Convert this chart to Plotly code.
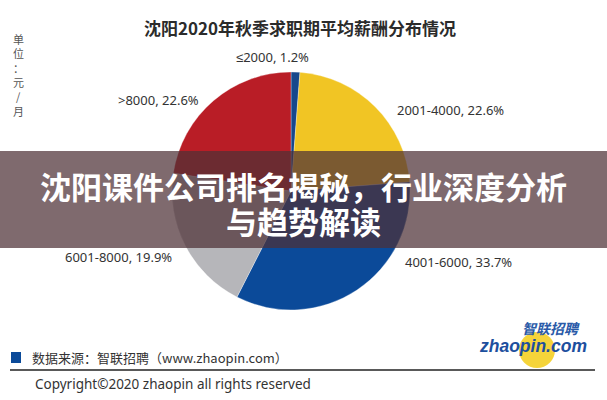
import plotly.graph_objects as go

labels = ["≤2000", "2001-4000", "4001-6000", "6001-8000", ">8000"]
values = [1.2, 22.6, 33.7, 19.9, 22.6]
colors = ["#17488c", "#f1c524", "#0b4a99", "#b6b6ba", "#b91d26"]
label_pos = [(272, 57), (450, 110), (459, 262), (118, 257), (158, 100)]
unit_chars = ["单", "位", "：", "元", "/", "月"]

W, H = 607, 400
cx, cy, r = 291, 191, 119

fig = go.Figure()
fig.add_trace(go.Pie(
    labels=labels, values=values, sort=False, direction="clockwise", rotation=0,
    marker=dict(colors=colors, line=dict(color="rgba(255,255,255,0.6)", width=0.5)),
    textinfo="none", hoverinfo="label+percent", showlegend=False,
    domain=dict(x=[(cx - r) / W, (cx + r) / W], y=[1 - (cy + r) / H, 1 - (cy - r) / H]),
))


def txt(x, y, text, size, color, family, xanchor="center"):
    return dict(x=x / W, y=1 - y / H, xref="paper", yref="paper", xanchor=xanchor,
                yanchor="middle", text=text, showarrow=False,
                font=dict(size=size, color=color, family=family))


ann = []
for lab, v, (x, y) in zip(labels, values, label_pos):
    ann.append(txt(x, y, f"{lab}, {v}%", 13, "#333333", "Noto Sans, Arial"))

ann.append(txt(300, 27, "<b>沈阳2020年秋季求职期平均薪酬分布情况</b>", 17, "#2b2b2b", "Noto Sans CJK SC"))
for i, ch in enumerate(unit_chars):
    ann.append(txt(18, 39 + i * 14.3, ch, 11, "#555555", "Noto Sans CJK SC"))
ann.append(txt(30, 357, "数据来源：智联招聘（www.zhaopin.com）", 13, "#333333", "Noto Sans CJK SC", "left"))
ann.append(txt(33, 384, "Copyright©2020 zhaopin all rights reserved", 13.5, "#333333", "Noto Sans, Arial", "left"))
ann.append(txt(582, 328, "<b><i>智联招聘</i></b>", 14, "#2a5aa8", "Noto Sans CJK SC", "right"))
ann.append(txt(589, 346, "<b><i>zhaopin.com</i></b>", 17.5, "#1d4f9e", "Arial, Liberation Sans", "right"))
ann.append(txt(303.5, 185, "<b>沈阳课件公司排名揭秘，行业深度分析</b>", 31, "white", "Noto Sans CJK SC"))
ann.append(txt(303.5, 220, "<b>与趋势解读</b>", 31, "white", "Noto Sans CJK SC"))

shapes = [
    dict(type="circle", xref="paper", yref="paper", layer="above",
         x0=519 / W, x1=555 / W, y0=1 - 368 / H, y1=1 - 332 / H,
         fillcolor="#f5d43a", line=dict(width=0)),
    dict(type="rect", xref="paper", yref="paper", layer="above",
         x0=0, x1=1, y0=1 - 248 / H, y1=1 - 151 / H,
         fillcolor="rgba(78,48,54,0.72)", line=dict(width=0)),
    dict(type="rect", xref="paper", yref="paper", layer="above",
         x0=11 / W, x1=21 / W, y0=1 - 363 / H, y1=1 - 352 / H,
         fillcolor="#0b4a99", line=dict(width=0)),
    dict(type="line", xref="paper", yref="paper", layer="above",
         x0=10 / W, x1=595 / W, y0=1 - 370 / H, y1=1 - 370 / H,
         line=dict(color="#222222", width=1.5)),
]

fig.update_layout(
    width=W, height=H, margin=dict(l=0, r=0, t=0, b=0),
    paper_bgcolor="white", plot_bgcolor="white",
    annotations=ann, shapes=shapes,
)
fig.write_html("out.html", config={"displayModeBar": False})
with open("out.html", encoding="utf-8") as f:
    html = f.read()
html = html.replace("<body>", '<body style="margin:0;padding:0;overflow:hidden">', 1)
with open("out.html", "w", encoding="utf-8") as f:
    f.write(html)
